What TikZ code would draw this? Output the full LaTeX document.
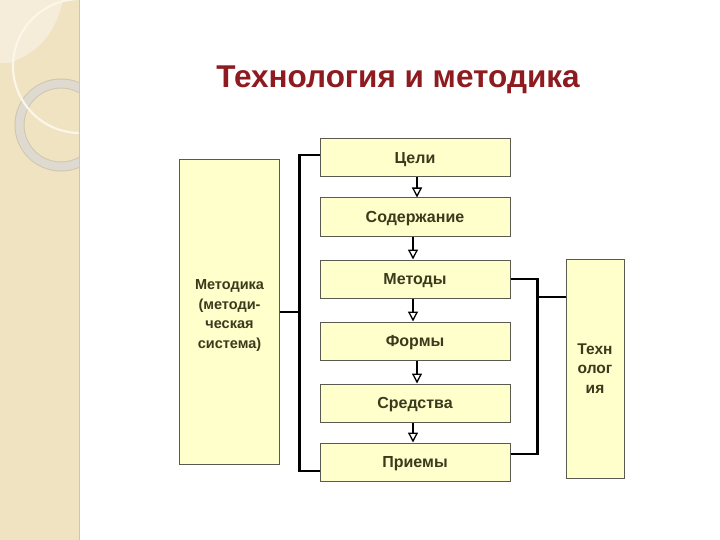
\documentclass[tikz,border=0pt]{standalone}
\usepackage{fontspec}
\setmainfont{Liberation Sans}
\usetikzlibrary{arrows.meta}
\definecolor{stripbg}{HTML}{EFE3C2}
\definecolor{stripli}{HTML}{F5EDD9}
\definecolor{ringc}{HTML}{DEDAD0}
\definecolor{ringe}{HTML}{CFC6B2}
\definecolor{arcc}{HTML}{FBF6E8}
\definecolor{boxfill}{HTML}{FFFFCC}
\definecolor{boxline}{HTML}{5A5A50}
\definecolor{boxtext}{HTML}{3A3A1C}
\definecolor{titlec}{HTML}{8E1B1F}
\begin{document}
\begin{tikzpicture}[x=1pt,y=-1pt,
  stepbox/.style={draw=boxline,line width=1pt,fill=boxfill,minimum width=190pt,minimum height=38pt,inner sep=0pt,font=\fontsize{16}{18}\selectfont\bfseries,text=boxtext,text height=11.5pt,text depth=0pt},
  sidebox/.style={draw=boxline,line width=1pt,fill=boxfill,inner sep=0pt,font=\fontsize{14.5}{19.5}\selectfont\bfseries,text=boxtext,align=center},
  conn/.style={line width=2.2pt,black},
  arr/.style={line width=2.2pt,black,-{Triangle[open,length=10pt,width=10pt,line width=1.3pt]}}]
\useasboundingbox (0,0) rectangle (720,540);
\fill[white] (0,0) rectangle (720,540);
% decorative strip
\fill[stripbg] (0,0) rectangle (79,540);
\begin{scope}
\clip (0,0) rectangle (79,540);
\fill[stripli] (0,0) -- (63,0) .. controls (55,35) and (38,52) .. (10,63) -- (0,63) -- cycle;
\draw[ringe,line width=10pt] (61,125) circle[radius=41.5];
\draw[ringc,line width=8pt] (61,125) circle[radius=41.5];
\draw[arcc,line width=2.2pt] (80,66) circle[radius=67];
\end{scope}
\draw[color=ringe,line width=0.8pt] (79,0) -- (79,540);
% title
\node[font=\fontsize{31.5}{36}\selectfont\bfseries,text=titlec] (title) at (398,80) {Технология и методика};
% central column
\node[stepbox] (c1) at (415,158) {Цели};
\node[stepbox] (c2) at (415,217) {Содержание};
\node[stepbox] (c3) at (415,279) {Методы};
\node[stepbox] (c4) at (415,341) {Формы};
\node[stepbox] (c5) at (415,403) {Средства};
\node[stepbox] (c6) at (415,462) {Приемы};
% side boxes
\node[sidebox,minimum width=100pt,minimum height=304pt] (m) at (229.5,312) {\raisebox{0pt}[\dimexpr\height+6pt\relax][\depth]{\begin{tabular}{@{}c@{}}Методика\\(методи-\\ческая\\система)\end{tabular}}};
\node[sidebox,minimum width=58pt,minimum height=219pt,font=\fontsize{15.5}{19.5}\selectfont\bfseries] (t) at (595,368.5) {Техн\\олог\\ия};
% arrows
\draw[arr] ([xshift=2pt]c1.south) -- ([xshift=2pt]c2.north);
\draw[arr] ([xshift=-2pt]c2.south) -- ([xshift=-2pt]c3.north);
\draw[arr] ([xshift=-2pt]c3.south) -- ([xshift=-2pt]c4.north);
\draw[arr] ([xshift=2pt]c4.south) -- ([xshift=2pt]c5.north);
\draw[arr] ([xshift=-2pt]c5.south) -- ([xshift=-2pt]c6.north);
% left bracket
\draw[conn] ([yshift=3pt]c1.west) -- ++(-20,0) coordinate (lb) |- ([yshift=-9pt]c6.west);
\draw[conn] (m.east) -- (m.east -| lb);
% right bracket
\draw[conn] (c3.east) -- ++(27,0) coordinate (rb) |- ([yshift=8pt]c6.east);
\draw[conn] ([yshift=71.5pt]t.west) -- ([yshift=71.5pt]t.west -| rb);
\end{tikzpicture}
\end{document}
